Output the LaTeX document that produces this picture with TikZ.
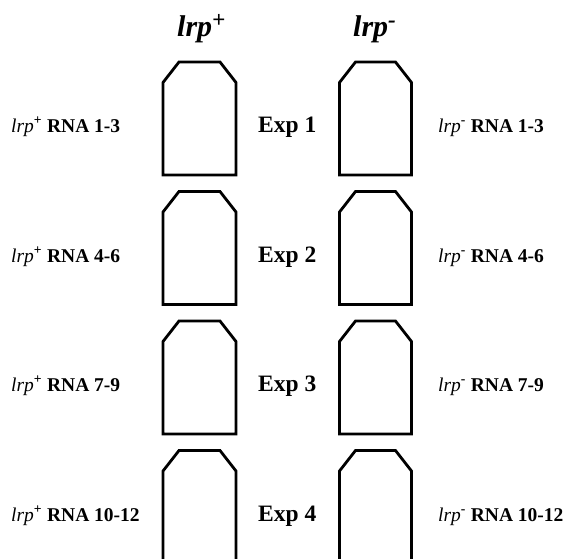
\documentclass[tikz,border=0pt]{standalone}
\usepackage{fontspec}
\setmainfont{Liberation Serif}
\begin{document}
\begin{tikzpicture}[x=1pt,y=-1pt,
  tube/.style={draw=black,line width=2.8pt,line join=miter},
  hdr/.style={font=\fontsize{30}{32}\selectfont\bfseries\itshape,anchor=base west,inner sep=0pt},
  sidelbl/.style={font=\fontsize{19.5}{21}\selectfont,anchor=base west,inner sep=0pt},
  explbl/.style={font=\fontsize{23.5}{25}\selectfont\bfseries,anchor=base west,inner sep=0pt}]
\useasboundingbox (0,0) rectangle (567,558);
\clip (0,0) rectangle (567,558);
\node[hdr] (hplus) at (177,36.7) {lrp{\fontsize{33}{33}\selectfont\textsuperscript{+}}};
\node[hdr] (hminus) at (353,36.7) {lrp{\fontsize{33}{33}\selectfont\textsuperscript{-}}};
\foreach \t/\n/\r [count=\i] in {62/1/1-3,191.5/2/4-6,321/3/7-9,450.5/4/10-12}{
  \draw[tube] (163,\t+20.5) -- (179,\t) -- (220,\t) -- (236,\t+20.5) -- (236,\t+113) -- (163,\t+113) -- cycle;
  \draw[tube] (339.5,\t+20.5) -- (355.5,\t) -- (395.5,\t) -- (411.5,\t+20.5) -- (411.5,\t+113) -- (339.5,\t+113) -- cycle;
  \node[sidelbl] (lp\i) at (11,\t+70.5) {\textit{lrp}\textsuperscript{\textbf{+}} \textbf{RNA \r}};
  \node[explbl] (exp\i) at (258,\t+70.5) {Exp \n};
  \node[sidelbl] (lm\i) at (438,\t+70.5) {\textit{lrp}\textsuperscript{\textbf{-}} \textbf{RNA \r}};
}
\end{tikzpicture}
\end{document}
